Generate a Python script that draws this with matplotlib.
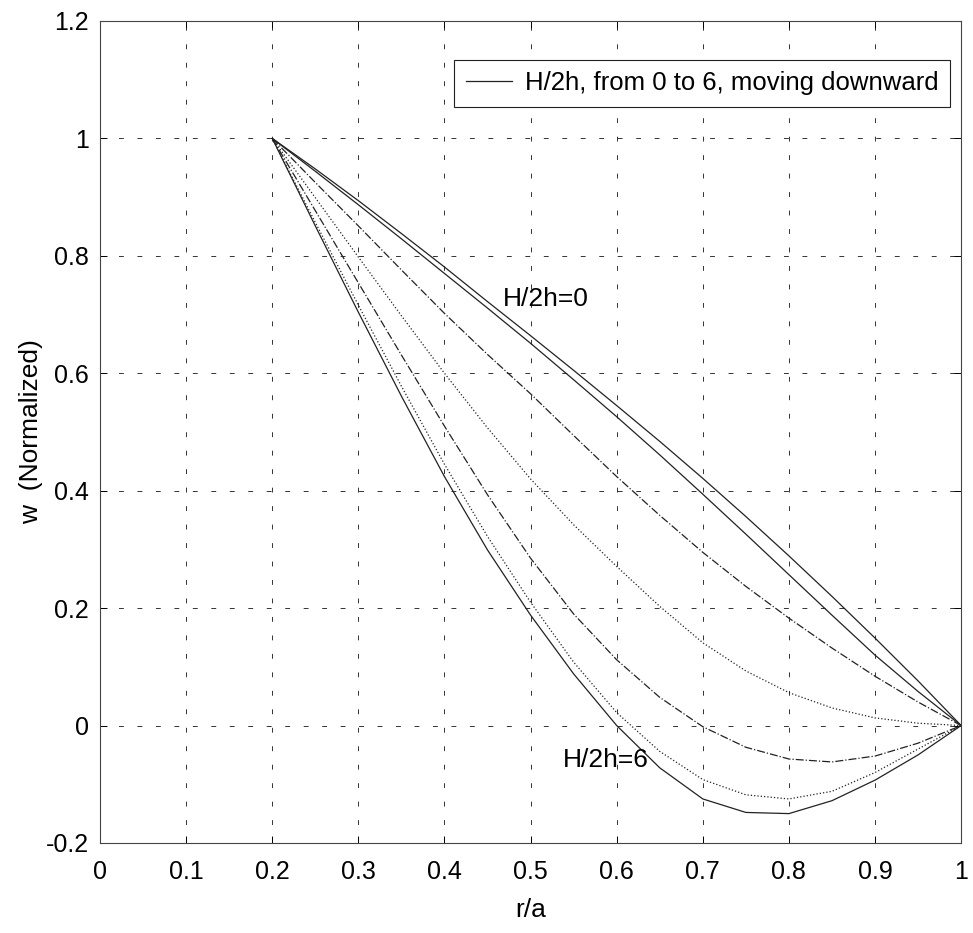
import matplotlib.pyplot as plt

# Dados (r/a de 0.2 a 1.0, passo 0.05)
r = [0.20, 0.25, 0.30, 0.35, 0.40, 0.45, 0.50, 0.55, 0.60,
     0.65, 0.70, 0.75, 0.80, 0.85, 0.90, 0.95, 1.00]

w_h0 = [1.000, 0.948, 0.894, 0.838, 0.781, 0.722, 0.664, 0.605, 0.545,
        0.484, 0.421, 0.356, 0.289, 0.220, 0.149, 0.076, 0.000]
w_h1 = [1.000, 0.944, 0.887, 0.829, 0.770, 0.711, 0.651, 0.589, 0.526,
        0.461, 0.394, 0.326, 0.257, 0.188, 0.120, 0.058, 0.000]
w_h2 = [1.000, 0.925, 0.851, 0.776, 0.702, 0.632, 0.565, 0.494, 0.424,
        0.358, 0.295, 0.237, 0.183, 0.132, 0.084, 0.040, 0.000]
w_h3 = [1.000, 0.899, 0.798, 0.698, 0.600, 0.507, 0.420, 0.342, 0.271,
        0.203, 0.141, 0.093, 0.056, 0.030, 0.013, 0.004, 0.000]
w_h4 = [1.000, 0.877, 0.754, 0.631, 0.510, 0.393, 0.285, 0.190, 0.112,
        0.048, -0.002, -0.037, -0.057, -0.062, -0.052, -0.030, 0.000]
w_h5 = [1.000, 0.857, 0.716, 0.578, 0.445, 0.322, 0.210, 0.108, 0.022,
        -0.044, -0.092, -0.118, -0.125, -0.112, -0.080, -0.040, 0.000]
w_h6 = [1.000, 0.851, 0.704, 0.561, 0.424, 0.299, 0.188, 0.088, 0.000,
        -0.072, -0.125, -0.148, -0.150, -0.128, -0.093, -0.050, 0.000]

curves = [w_h0, w_h1, w_h2, w_h3, w_h4, w_h5, w_h6]
styles = ["-", "-", "-.", ":", "-.", ":", "-"]

xticks = [0, 0.1, 0.2, 0.3, 0.4, 0.5, 0.6, 0.7, 0.8, 0.9, 1]
xtick_labels = ["0", "0.1", "0.2", "0.3", "0.4", "0.5", "0.6", "0.7", "0.8", "0.9", "1"]
yticks = [-0.2, 0, 0.2, 0.4, 0.6, 0.8, 1.0, 1.2]
ytick_labels = ["-0.2", "0", "0.2", "0.4", "0.6", "0.8", "1", "1.2"]

plt.rcParams["font.family"] = ["Liberation Sans", "DejaVu Sans"]

fig = plt.figure(figsize=(9.73, 9.33), dpi=100)
fig.patch.set_facecolor("white")
ax = fig.add_axes([0.1028, 0.0965, 0.885, 0.881])

lines = []
for w, ls in zip(curves, styles):
    ln, = ax.plot(r, w, linestyle=ls, color="#222222", linewidth=0.9)
    lines.append(ln)

ax.set_xlim(0, 1)
ax.set_ylim(-0.2, 1.2)
ax.set_xticks(xticks)
ax.set_xticklabels(xtick_labels, fontsize=18)
ax.set_yticks(yticks)
ax.set_yticklabels(ytick_labels, fontsize=18)
ax.tick_params(direction="in", length=5, width=0.7, top=True, right=True)
ax.tick_params(axis="x", pad=12)
ax.tick_params(axis="y", pad=8)

# grade pontilhada estilo MATLAB
ax.grid(True, linestyle=(0, (5, 14)), color="#333333", linewidth=0.7)
for sp in ax.spines.values():
    sp.set_linewidth(0.8)
    sp.set_color("#444444")

ax.set_xlabel("r/a", fontsize=19, labelpad=10)
ax.set_ylabel("w  (Normalized)", fontsize=19, labelpad=2)

ax.text(0.468, 0.727, "H/2h=0", fontsize=19, va="center", ha="left")
ax.text(0.538, -0.059, "H/2h=6", fontsize=19, va="center", ha="left")

leg = ax.legend([lines[0]], ["H/2h, from 0 to 6, moving downward"],
                loc="upper right", bbox_to_anchor=(0.987, 0.953),
                borderaxespad=0, fancybox=False, framealpha=1,
                edgecolor="#222222", handlelength=1.8, handletextpad=0.5,
                borderpad=0.45, prop={"size": 18.5})
leg.get_frame().set_linewidth(0.8)

plt.savefig("out.png", dpi=100, facecolor="white")
